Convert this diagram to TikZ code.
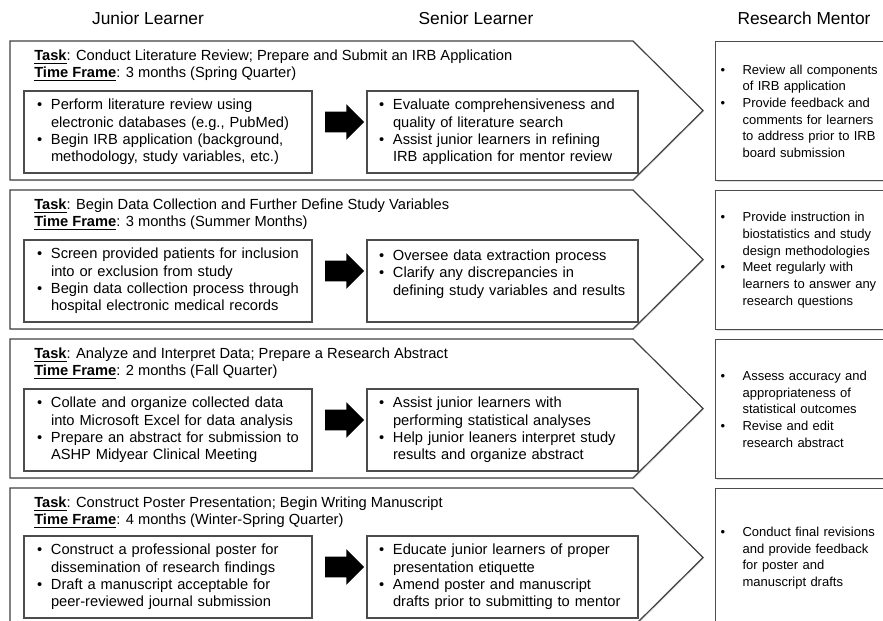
\documentclass[tikz,border=0pt]{standalone}
\usepackage{fontspec}
\setmainfont{Liberation Sans}
\usetikzlibrary{positioning,shapes.arrows,shadows}

\newcommand{\puce}[1][10.5pt]{\makebox[#1][l]{\textbullet}}
\newcommand{\suite}[1][10.5pt]{\hspace*{#1}}
\newcommand{\champ}[1]{\underline{\textbf{#1}}}

\begin{document}
\begin{tikzpicture}[x=0.75pt, y=-0.75pt,
		titre/.style={font=\fontsize{13pt}{15pt}\selectfont, inner sep=0pt, text height=.72em, text depth=0pt},
		entete/.style={anchor=west, font=\fontsize{11pt}{13pt}\selectfont, inner sep=0pt, text height=.72em, text depth=0pt},
		etape/.style={draw=black!75, line width=0.9pt, fill=white, drop shadow={shadow xshift=0.8pt, shadow yshift=-0.8pt, opacity=0.25}},
		boite/.style={rectangle, draw=black!70, line width=0.9pt, fill=white, align=left,
			font=\fontsize{11pt}{13.1pt}\selectfont, minimum height=61.5pt, inner ysep=0pt,
			drop shadow={shadow xshift=0.8pt, shadow yshift=-0.8pt, opacity=0.25}},
		junior/.style={boite, text width=196.5pt, inner xsep=9.75pt},
		senior/.style={boite, text width=185.25pt, inner xsep=9pt},
		mentor/.style={rectangle, draw=black!70, line width=0.9pt, fill=white, align=left, anchor=north west,
			font=\fontsize{9.75pt}{12.5pt}\selectfont, minimum height=104.25pt, text width=135pt, inner xsep=3.75pt,
			drop shadow={shadow xshift=0.8pt, shadow yshift=-0.8pt, opacity=0.25}},
		fleche/.style={single arrow, fill=black, inner xsep=0pt, inner ysep=7.5pt, minimum width=26.25pt,
			minimum height=29.25pt, single arrow head extend=5.625pt}
		]
	\useasboundingbox (0,0) rectangle (883,621);

	% En-tetes des colonnes
	\node[titre] (HJ) at (148,20) {Junior Learner};
	\node[titre] (HS) at (476,20) {Senior Learner};
	\node[titre] (HM) at (804,20) {Research Mentor};

	% Etape 1
	\draw[etape] (10,41) -- (633,41) -- (703,110.5) -- (633,180) -- (10,180) -- cycle;
	\node[entete] (T1) at (34,56) {\champ{Task}: Conduct Literature Review; Prepare and Submit an IRB Application};
	\node[entete] (D1) at (34,73) {\champ{Time Frame}: 3 months (Spring Quarter)};
	\node[junior] (J1) at (168,132) {\puce Perform literature review using\\ \suite electronic databases (e.g., PubMed)\\ \puce Begin IRB application (background,\\ \suite methodology, study variables, etc.)};
	\node[senior] (S1) at (502.5,132) {\puce Evaluate comprehensiveness and\\ \suite quality of literature search\\ \puce Assist junior learners in refining\\ \suite IRB application for mentor review};
	\node[fleche] (F1) at (339.5,122) {};
	\node[mentor] (M1) at (715,41) {\puce[16.5pt]Review all components\\ \suite[16.5pt]of IRB application\\ \puce[16.5pt]Provide feedback and\\ \suite[16.5pt]comments for learners\\ \suite[16.5pt]to address prior to IRB\\ \suite[16.5pt]board submission};

	% Etape 2
	\draw[etape] (10,190) -- (633,190) -- (703,259.5) -- (633,329) -- (10,329) -- cycle;
	\node[entete] (T2) at (34,205) {\champ{Task}: Begin Data Collection and Further Define Study Variables};
	\node[entete] (D2) at (34,222) {\champ{Time Frame}: 3 months (Summer Months)};
	\node[junior] (J2) at (168,281) {\puce Screen provided patients for inclusion\\ \suite into or exclusion from study\\ \puce Begin data collection process through\\ \suite hospital electronic medical records};
	\node[senior] (S2) at (502.5,281) {\puce Oversee data extraction process\\ \puce Clarify any discrepancies in\\ \suite defining study variables and results\\ ~};
	\node[fleche] (F2) at (339.5,271) {};
	\node[mentor] (M2) at (715,190) {\puce[16.5pt]Provide instruction in\\ \suite[16.5pt]biostatistics and study\\ \suite[16.5pt]design methodologies\\ \puce[16.5pt]Meet regularly with\\ \suite[16.5pt]learners to answer any\\ \suite[16.5pt]research questions};

	% Etape 3
	\draw[etape] (10,339) -- (633,339) -- (703,408.5) -- (633,478) -- (10,478) -- cycle;
	\node[entete] (T3) at (34,354) {\champ{Task}: Analyze and Interpret Data; Prepare a Research Abstract};
	\node[entete] (D3) at (34,371) {\champ{Time Frame}: 2 months (Fall Quarter)};
	\node[junior] (J3) at (168,430) {\puce Collate and organize collected data\\ \suite into Microsoft Excel for data analysis\\ \puce Prepare an abstract for submission to\\ \suite ASHP Midyear Clinical Meeting};
	\node[senior] (S3) at (502.5,430) {\puce Assist junior learners with\\ \suite performing statistical analyses\\ \puce Help junior leaners interpret study\\ \suite results and organize abstract};
	\node[fleche] (F3) at (339.5,420) {};
	\node[mentor] (M3) at (715,339) {\puce[16.5pt]Assess accuracy and\\ \suite[16.5pt]appropriateness of\\ \suite[16.5pt]statistical outcomes\\ \puce[16.5pt]Revise and edit\\ \suite[16.5pt]research abstract};

	% Etape 4
	\draw[etape] (10,488) -- (633,488) -- (703,557.5) -- (633,627) -- (10,627) -- cycle;
	\node[entete] (T4) at (34,503) {\champ{Task}: Construct Poster Presentation; Begin Writing Manuscript};
	\node[entete] (D4) at (34,520) {\champ{Time Frame}: 4 months (Winter-Spring Quarter)};
	\node[junior] (J4) at (168,577) {\puce Construct a professional poster for\\ \suite dissemination of research findings\\ \puce Draft a manuscript acceptable for\\ \suite peer-reviewed journal submission};
	\node[senior] (S4) at (502.5,577) {\puce Educate junior learners of proper\\ \suite presentation etiquette\\ \puce Amend poster and manuscript\\ \suite drafts prior to submitting to mentor};
	\node[fleche] (F4) at (339.5,567) {};
	\node[mentor] (M4) at (715,488) {\puce[16.5pt]Conduct final revisions\\ \suite[16.5pt]and provide feedback\\ \suite[16.5pt]for poster and\\ \suite[16.5pt]manuscript drafts};
\end{tikzpicture}
\end{document}
